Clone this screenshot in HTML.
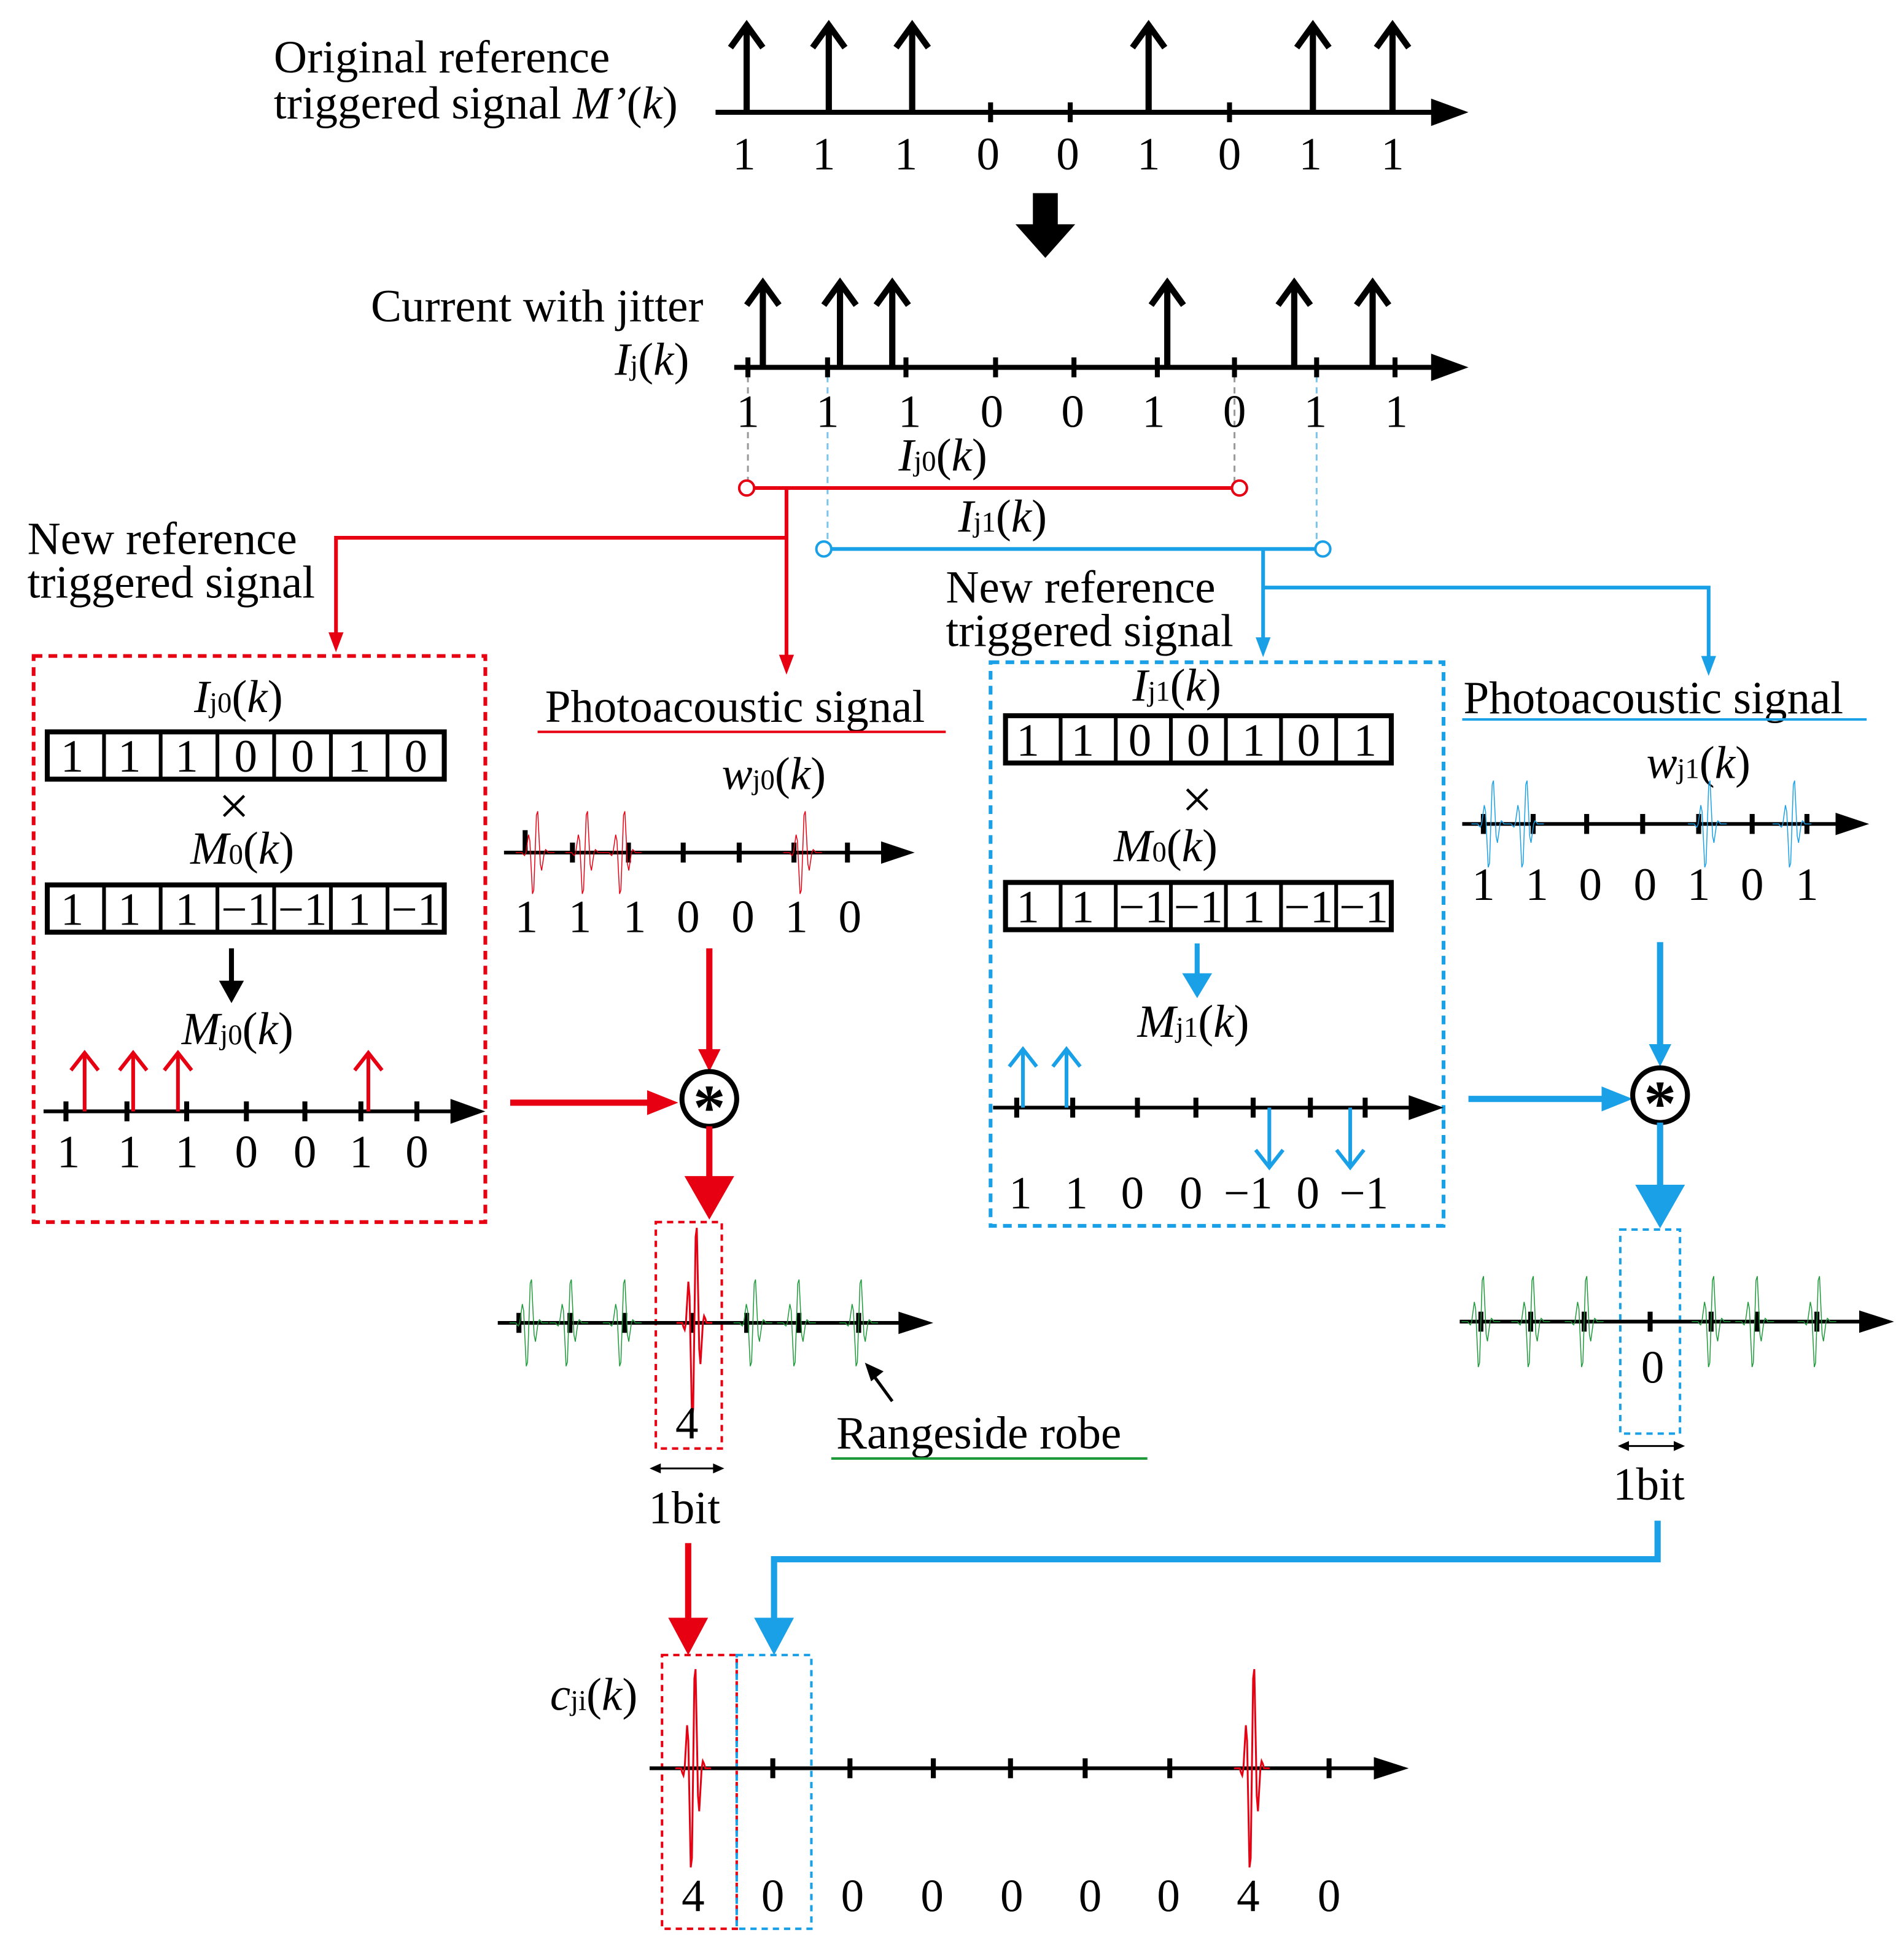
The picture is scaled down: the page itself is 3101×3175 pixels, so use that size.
<!DOCTYPE html>
<html><head><meta charset="utf-8">
<style>
html,body{margin:0;padding:0;background:#fff;}
svg{display:block;}
text{font-family:"Liberation Serif",serif;font-size:37px;fill:#000;}
.i{font-style:italic;}
.s{font-size:23px;font-style:normal;}
.c{text-anchor:middle;}
</style></head>
<body>
<svg width="3101" height="3175" viewBox="0 0 1530 1566" xmlns="http://www.w3.org/2000/svg">
<defs>
<path id="wv" fill="none" vector-effect="non-scaling-stroke" d="M-6,0 L-4.05,0 L-3.65,1.5 L-3.24,2.4 L-2.84,0 L-2.43,-7.3 L-2.03,-14.4 L-1.62,-9.3 L-1.22,11.9 L-0.81,33.2 L-0.41,30.1 L0,0 L0.41,-30.1 L0.81,-33.2 L1.22,-11.9 L1.62,9.3 L2.03,14.4 L2.43,7.3 L2.84,0 L3.24,-2.4 L3.65,-1.5 L4.05,0 L6,0"/>
</defs>

<!-- ===== TOP ===== -->
<text x="220" y="58">Original reference</text>
<text x="220" y="95">triggered signal <tspan class="i">M’</tspan>(<tspan class="i">k</tspan>)</text>
<g stroke="#000" stroke-width="4" fill="none">
<line x1="575" y1="90" x2="1155" y2="90"/>
<line x1="796" y1="82" x2="796" y2="98"/><line x1="860" y1="82" x2="860" y2="98"/><line x1="988" y1="82" x2="988" y2="98"/>
<g stroke-width="5">
<line x1="600" y1="90" x2="600" y2="20"/><polyline points="587,38 600,20 613,38"/>
<line x1="666" y1="90" x2="666" y2="20"/><polyline points="653,38 666,20 679,38"/>
<line x1="733" y1="90" x2="733" y2="20"/><polyline points="720,38 733,20 746,38"/>
<line x1="923" y1="90" x2="923" y2="20"/><polyline points="910,38 923,20 936,38"/>
<line x1="1055" y1="90" x2="1055" y2="20"/><polyline points="1042,38 1055,20 1068,38"/>
<line x1="1119" y1="90" x2="1119" y2="20"/><polyline points="1106,38 1119,20 1132,38"/>
</g>
</g>
<polygon points="1180,90 1150,79 1150,101" fill="#000"/>
<text x="598" y="136" class="c">1</text><text x="662" y="136" class="c">1</text><text x="728" y="136" class="c">1</text><text x="794" y="136" class="c">0</text><text x="858" y="136" class="c">0</text><text x="923" y="136" class="c">1</text><text x="988" y="136" class="c">0</text><text x="1053" y="136" class="c">1</text><text x="1119" y="136" class="c">1</text>

<polygon points="830,155 850,155 850,180 864,180 840,207 816,180 830,180" fill="#000"/>

<!-- ===== JITTER ===== -->
<text x="298" y="258">Current with jitter</text>
<text x="494" y="301"><tspan class="i">I</tspan><tspan class="s">j</tspan>(<tspan class="i">k</tspan>)</text>
<g stroke-width="1.5" stroke-dasharray="5,4" fill="none">
<line x1="601" y1="302" x2="601" y2="388" stroke="#999"/>
<line x1="992" y1="302" x2="992" y2="388" stroke="#999"/>
<line x1="665" y1="302" x2="665" y2="437" stroke="#7cc4ea"/>
<line x1="1058" y1="302" x2="1058" y2="437" stroke="#7cc4ea"/>
</g>
<g stroke="#000" stroke-width="4" fill="none">
<line x1="590" y1="295" x2="1155" y2="295"/>
<line x1="601" y1="287" x2="601" y2="303"/><line x1="665" y1="287" x2="665" y2="303"/><line x1="728" y1="287" x2="728" y2="303"/><line x1="800" y1="287" x2="800" y2="303"/><line x1="863" y1="287" x2="863" y2="303"/><line x1="930" y1="287" x2="930" y2="303"/><line x1="992" y1="287" x2="992" y2="303"/><line x1="1058" y1="287" x2="1058" y2="303"/><line x1="1121" y1="287" x2="1121" y2="303"/>
<g stroke-width="5">
<line x1="613" y1="295" x2="613" y2="227"/><polyline points="600,245 613,227 626,245"/>
<line x1="675" y1="295" x2="675" y2="227"/><polyline points="662,245 675,227 688,245"/>
<line x1="717" y1="295" x2="717" y2="227"/><polyline points="704,245 717,227 730,245"/>
<line x1="938" y1="295" x2="938" y2="227"/><polyline points="925,245 938,227 951,245"/>
<line x1="1040" y1="295" x2="1040" y2="227"/><polyline points="1027,245 1040,227 1053,245"/>
<line x1="1103" y1="295" x2="1103" y2="227"/><polyline points="1090,245 1103,227 1116,245"/>
</g>
</g>
<polygon points="1180,295 1150,284 1150,306" fill="#000"/>
<text x="601" y="343" class="c">1</text><text x="665" y="343" class="c">1</text><text x="731" y="343" class="c">1</text><text x="797" y="343" class="c">0</text><text x="862" y="343" class="c">0</text><text x="927" y="343" class="c">1</text><text x="992" y="343" class="c">0</text><text x="1057" y="343" class="c">1</text><text x="1122" y="343" class="c">1</text>

<text x="722" y="378"><tspan class="i">I</tspan><tspan class="s">j0</tspan>(<tspan class="i">k</tspan>)</text>
<text x="770" y="427"><tspan class="i">I</tspan><tspan class="s">j1</tspan>(<tspan class="i">k</tspan>)</text>

<g fill="none" stroke-width="3">
<line x1="606" y1="392" x2="990" y2="392" stroke="#e60012"/>
<line x1="668" y1="441" x2="1057" y2="441" stroke="#1aa0e6"/>
<polyline points="632,392 632,528" stroke="#e60012"/>
<polyline points="632,432 270,432 270,510" stroke="#e60012"/>
<polyline points="1015,441 1015,514" stroke="#1aa0e6"/>
<polyline points="1015,472 1373,472 1373,529" stroke="#1aa0e6"/>
</g>
<g fill="#fff" stroke-width="2">
<circle cx="600" cy="392" r="6" stroke="#e60012"/><circle cx="996" cy="392" r="6" stroke="#e60012"/>
<circle cx="662" cy="441" r="6" stroke="#1aa0e6"/><circle cx="1063" cy="441" r="6" stroke="#1aa0e6"/>
</g>
<polygon points="632,542 626,526 638,526" fill="#e60012"/>
<polygon points="270,524 264,508 276,508" fill="#e60012"/>
<polygon points="1015,528 1009,512 1021,512" fill="#1aa0e6"/>
<polygon points="1373,543 1367,527 1379,527" fill="#1aa0e6"/>

<text x="22" y="445">New reference</text>
<text x="22" y="480">triggered signal</text>
<text x="760" y="484">New reference</text>
<text x="760" y="519">triggered signal</text>

<!-- ===== LEFT BOX ===== -->
<rect x="27" y="527" width="363" height="455" fill="none" stroke="#e60012" stroke-width="3" stroke-dasharray="7,5"/>
<text x="156" y="572"><tspan class="i">I</tspan><tspan class="s">j0</tspan>(<tspan class="i">k</tspan>)</text>
<g stroke="#000" fill="none">
<rect x="38" y="588" width="319" height="38" stroke-width="4"/>
<rect x="38" y="711" width="319" height="38" stroke-width="4"/>
<g stroke-width="3">
<line x1="83.6" y1="588" x2="83.6" y2="626"/><line x1="129.1" y1="588" x2="129.1" y2="626"/><line x1="174.7" y1="588" x2="174.7" y2="626"/><line x1="220.3" y1="588" x2="220.3" y2="626"/><line x1="265.9" y1="588" x2="265.9" y2="626"/><line x1="311.4" y1="588" x2="311.4" y2="626"/>
<line x1="83.6" y1="711" x2="83.6" y2="749"/><line x1="129.1" y1="711" x2="129.1" y2="749"/><line x1="174.7" y1="711" x2="174.7" y2="749"/><line x1="220.3" y1="711" x2="220.3" y2="749"/><line x1="265.9" y1="711" x2="265.9" y2="749"/><line x1="311.4" y1="711" x2="311.4" y2="749"/>
</g>
</g>
<text x="58" y="620" class="c">1</text><text x="104" y="620" class="c">1</text><text x="150" y="620" class="c">1</text><text x="197.5" y="620" class="c">0</text><text x="243.1" y="620" class="c">0</text><text x="288.6" y="620" class="c">1</text><text x="334.2" y="620" class="c">0</text>
<text x="188" y="662" class="c" style="font-size:44px">×</text>
<text x="153" y="694"><tspan class="i">M</tspan><tspan class="s">0</tspan>(<tspan class="i">k</tspan>)</text>
<text x="58" y="743" class="c">1</text><text x="104" y="743" class="c">1</text><text x="150" y="743" class="c">1</text><text x="197.5" y="743" class="c">−1</text><text x="243.1" y="743" class="c">−1</text><text x="288.6" y="743" class="c">1</text><text x="334.2" y="743" class="c">−1</text>
<line x1="186" y1="762" x2="186" y2="790" stroke="#000" stroke-width="4"/>
<polygon points="186,806 176,788 196,788" fill="#000"/>
<text x="146" y="839"><tspan class="i">M</tspan><tspan class="s">j0</tspan>(<tspan class="i">k</tspan>)</text>
<g stroke="#000" stroke-width="4" fill="none">
<line x1="35" y1="893" x2="366" y2="893" stroke-width="3"/>
<line x1="53" y1="885" x2="53" y2="901"/><line x1="102" y1="885" x2="102" y2="901"/><line x1="150" y1="885" x2="150" y2="901"/><line x1="198" y1="885" x2="198" y2="901"/><line x1="245" y1="885" x2="245" y2="901"/><line x1="290" y1="885" x2="290" y2="901"/><line x1="335" y1="885" x2="335" y2="901"/>
</g>
<polygon points="390,893 362,883 362,903" fill="#000"/>
<g stroke="#e60012" stroke-width="3" fill="none">
<line x1="68" y1="893" x2="68" y2="846"/><polyline points="57,860 68,846 79,860"/>
<line x1="107" y1="893" x2="107" y2="846"/><polyline points="96,860 107,846 118,860"/>
<line x1="143" y1="893" x2="143" y2="846"/><polyline points="132,860 143,846 154,860"/>
<line x1="296" y1="893" x2="296" y2="846"/><polyline points="285,860 296,846 307,860"/>
</g>
<text x="55" y="938" class="c">1</text><text x="104" y="938" class="c">1</text><text x="150" y="938" class="c">1</text><text x="198" y="938" class="c">0</text><text x="245" y="938" class="c">0</text><text x="290" y="938" class="c">1</text><text x="335" y="938" class="c">0</text>

<!-- ===== RED PA ===== -->
<text x="438" y="580">Photoacoustic signal</text>
<line x1="432" y1="588" x2="760" y2="588" stroke="#e60012" stroke-width="2"/>
<text x="580" y="634"><tspan class="i">w</tspan><tspan class="s">j0</tspan>(<tspan class="i">k</tspan>)</text>
<g stroke="#000" stroke-width="4" fill="none">
<line x1="405" y1="685" x2="712" y2="685" stroke-width="3"/>
<line x1="422" y1="667" x2="422" y2="685"/><line x1="460" y1="677" x2="460" y2="693"/><line x1="505" y1="677" x2="505" y2="693"/><line x1="549" y1="677" x2="549" y2="693"/><line x1="594" y1="677" x2="594" y2="693"/><line x1="638" y1="677" x2="638" y2="693"/><line x1="681" y1="677" x2="681" y2="693"/>
</g>
<polygon points="735,685 708,676 708,694" fill="#000"/>
<g stroke="#e60012" stroke-width="1.5">
<use href="#wv" transform="translate(430,685) scale(2.6,1)"/>
<use href="#wv" transform="translate(470,685) scale(2.6,1)"/>
<use href="#wv" transform="translate(500,685) scale(2.6,1)"/>
<use href="#wv" transform="translate(645,685) scale(2.6,1)"/>
</g>
<text x="423" y="749" class="c">1</text><text x="466" y="749" class="c">1</text><text x="510" y="749" class="c">1</text><text x="553" y="749" class="c">0</text><text x="597" y="749" class="c">0</text><text x="640" y="749" class="c">1</text><text x="683" y="749" class="c">0</text>

<line x1="570" y1="762" x2="570" y2="845" stroke="#e60012" stroke-width="5"/>
<polygon points="570,861 561,843 579,843" fill="#e60012"/>
<line x1="410" y1="886" x2="522" y2="886" stroke="#e60012" stroke-width="5"/>
<polygon points="545,886 520,876 520,896" fill="#e60012"/>
<circle cx="570" cy="883" r="22" fill="#fff" stroke="#000" stroke-width="4"/>
<text x="570" y="907" class="c" style="font-size:52px;font-weight:bold">*</text>
<line x1="570" y1="905" x2="570" y2="948" stroke="#e60012" stroke-width="5"/>
<polygon points="550,945 590,945 570,980" fill="#e60012"/>

<rect x="527" y="982" width="53" height="182" fill="none" stroke="#e60012" stroke-width="2" stroke-dasharray="5,4"/>
<g stroke="#000" stroke-width="4" fill="none">
<line x1="400" y1="1063" x2="725" y2="1063" stroke-width="3"/>
<line x1="417" y1="1055" x2="417" y2="1071"/><line x1="458" y1="1055" x2="458" y2="1071"/><line x1="502" y1="1055" x2="502" y2="1071"/><line x1="556" y1="1055" x2="556" y2="1071"/><line x1="600" y1="1055" x2="600" y2="1071"/><line x1="642" y1="1055" x2="642" y2="1071"/><line x1="690" y1="1055" x2="690" y2="1071"/>
</g>
<polygon points="750,1063 722,1054 722,1072" fill="#000"/>
<g stroke="#1e9a3a" stroke-width="1.5">
<use href="#wv" transform="translate(425,1063) scale(2.6,1.05)"/>
<use href="#wv" transform="translate(457,1063) scale(2.6,1.05)"/>
<use href="#wv" transform="translate(500,1063) scale(2.6,1.05)"/>
<use href="#wv" transform="translate(605,1063) scale(2.6,1.05)"/>
<use href="#wv" transform="translate(640,1063) scale(2.6,1.05)"/>
<use href="#wv" transform="translate(690,1063) scale(2.6,1.05)"/>
</g>
<use href="#wv" stroke="#e60012" stroke-width="3" transform="translate(558,1063) scale(2.4,2.3)"/>
<text x="552" y="1156" class="c">4</text>
<line x1="528" y1="1180" x2="576" y2="1180" stroke="#000" stroke-width="1.5"/>
<polygon points="522,1180 531,1176 531,1184" fill="#000"/><polygon points="582,1180 573,1176 573,1184" fill="#000"/>
<text x="550" y="1224" class="c">1bit</text>
<line x1="717" y1="1126" x2="701" y2="1104" stroke="#000" stroke-width="2.5"/>
<polygon points="695,1095 710,1102 700,1110" fill="#000"/>
<text x="672" y="1164">Rangeside robe</text>
<line x1="668" y1="1172" x2="922" y2="1172" stroke="#1e9a3a" stroke-width="2"/>
<line x1="553" y1="1240" x2="553" y2="1302" stroke="#e60012" stroke-width="5"/>
<polygon points="537,1300 569,1300 553,1330" fill="#e60012"/>

<!-- ===== BLUE BOX ===== -->
<rect x="796" y="532" width="364" height="453" fill="none" stroke="#1aa0e6" stroke-width="3" stroke-dasharray="7,5"/>
<text x="910" y="563"><tspan class="i">I</tspan><tspan class="s">j1</tspan>(<tspan class="i">k</tspan>)</text>
<g stroke="#000" fill="none">
<rect x="808" y="575" width="310" height="38" stroke-width="4"/>
<rect x="808" y="709" width="310" height="38" stroke-width="4"/>
<g stroke-width="3">
<line x1="852.3" y1="575" x2="852.3" y2="613"/><line x1="896.6" y1="575" x2="896.6" y2="613"/><line x1="940.9" y1="575" x2="940.9" y2="613"/><line x1="985.1" y1="575" x2="985.1" y2="613"/><line x1="1029.4" y1="575" x2="1029.4" y2="613"/><line x1="1073.7" y1="575" x2="1073.7" y2="613"/>
<line x1="852.3" y1="709" x2="852.3" y2="747"/><line x1="896.6" y1="709" x2="896.6" y2="747"/><line x1="940.9" y1="709" x2="940.9" y2="747"/><line x1="985.1" y1="709" x2="985.1" y2="747"/><line x1="1029.4" y1="709" x2="1029.4" y2="747"/><line x1="1073.7" y1="709" x2="1073.7" y2="747"/>
</g>
</g>
<text x="826" y="607" class="c">1</text><text x="870" y="607" class="c">1</text><text x="916" y="607" class="c">0</text><text x="963" y="607" class="c">0</text><text x="1007.3" y="607" class="c">1</text><text x="1051.6" y="607" class="c">0</text><text x="1097" y="607" class="c">1</text>
<text x="962" y="657" class="c" style="font-size:44px">×</text>
<text x="895" y="692"><tspan class="i">M</tspan><tspan class="s">0</tspan>(<tspan class="i">k</tspan>)</text>
<text x="826" y="741" class="c">1</text><text x="870" y="741" class="c">1</text><text x="918.7" y="741" class="c">−1</text><text x="963" y="741" class="c">−1</text><text x="1007.3" y="741" class="c">1</text><text x="1051.6" y="741" class="c">−1</text><text x="1095.9" y="741" class="c">−1</text>
<line x1="962" y1="758" x2="962" y2="784" stroke="#1aa0e6" stroke-width="4"/>
<polygon points="962,802 950,782 974,782" fill="#1aa0e6"/>
<text x="914" y="833"><tspan class="i">M</tspan><tspan class="s">j1</tspan>(<tspan class="i">k</tspan>)</text>
<g stroke="#000" stroke-width="4" fill="none">
<line x1="798" y1="890" x2="1135" y2="890" stroke-width="3"/>
<line x1="817" y1="882" x2="817" y2="898"/><line x1="862" y1="882" x2="862" y2="898"/><line x1="914" y1="882" x2="914" y2="898"/><line x1="961" y1="882" x2="961" y2="898"/><line x1="1007" y1="882" x2="1007" y2="898"/><line x1="1053" y1="882" x2="1053" y2="898"/><line x1="1097" y1="882" x2="1097" y2="898"/>
</g>
<polygon points="1160,890 1132,880 1132,900" fill="#000"/>
<g stroke="#1aa0e6" stroke-width="3" fill="none">
<line x1="822" y1="890" x2="822" y2="843"/><polyline points="811,857 822,843 833,857"/>
<line x1="857" y1="890" x2="857" y2="843"/><polyline points="846,857 857,843 868,857"/>
<line x1="1020" y1="890" x2="1020" y2="938"/><polyline points="1009,924 1020,938 1031,924"/>
<line x1="1085" y1="890" x2="1085" y2="938"/><polyline points="1074,924 1085,938 1096,924"/>
</g>
<text x="820" y="971" class="c">1</text><text x="865" y="971" class="c">1</text><text x="910" y="971" class="c">0</text><text x="957" y="971" class="c">0</text><text x="1003" y="971" class="c">−1</text><text x="1051" y="971" class="c">0</text><text x="1096" y="971" class="c">−1</text>

<!-- ===== BLUE PA ===== -->
<text x="1176" y="573">Photoacoustic signal</text>
<line x1="1175" y1="578" x2="1500" y2="578" stroke="#1aa0e6" stroke-width="2"/>
<text x="1323" y="625"><tspan class="i">w</tspan><tspan class="s">j1</tspan>(<tspan class="i">k</tspan>)</text>
<g stroke="#000" stroke-width="4" fill="none">
<line x1="1175" y1="662" x2="1478" y2="662" stroke-width="3"/>
<line x1="1192" y1="654" x2="1192" y2="670"/><line x1="1232" y1="654" x2="1232" y2="670"/><line x1="1275" y1="654" x2="1275" y2="670"/><line x1="1320" y1="654" x2="1320" y2="670"/><line x1="1365" y1="654" x2="1365" y2="670"/><line x1="1408" y1="654" x2="1408" y2="670"/><line x1="1452" y1="654" x2="1452" y2="670"/>
</g>
<polygon points="1502,662 1475,653 1475,671" fill="#000"/>
<g stroke="#1aa0e6" stroke-width="1.5">
<use href="#wv" transform="translate(1198,662) scale(2.6,1.05)"/>
<use href="#wv" transform="translate(1225,662) scale(2.6,1.05)"/>
<use href="#wv" transform="translate(1372,662) scale(2.6,1.05)"/>
<use href="#wv" transform="translate(1440,662) scale(2.6,1.05)"/>
</g>
<text x="1192" y="723" class="c">1</text><text x="1235" y="723" class="c">1</text><text x="1278" y="723" class="c">0</text><text x="1322" y="723" class="c">0</text><text x="1365" y="723" class="c">1</text><text x="1408" y="723" class="c">0</text><text x="1452" y="723" class="c">1</text>

<line x1="1334" y1="757" x2="1334" y2="840" stroke="#1aa0e6" stroke-width="5"/>
<polygon points="1334,857 1325,839 1343,839" fill="#1aa0e6"/>
<line x1="1180" y1="883" x2="1290" y2="883" stroke="#1aa0e6" stroke-width="5"/>
<polygon points="1312,883 1287,873 1287,893" fill="#1aa0e6"/>
<circle cx="1334" cy="880" r="22" fill="#fff" stroke="#000" stroke-width="4"/>
<text x="1334" y="904" class="c" style="font-size:52px;font-weight:bold">*</text>
<line x1="1334" y1="902" x2="1334" y2="955" stroke="#1aa0e6" stroke-width="5"/>
<polygon points="1314,952 1354,952 1334,987" fill="#1aa0e6"/>

<rect x="1302" y="988" width="48" height="164" fill="none" stroke="#1aa0e6" stroke-width="2" stroke-dasharray="5,4"/>
<g stroke="#000" stroke-width="4" fill="none">
<line x1="1173" y1="1062" x2="1497" y2="1062" stroke-width="3"/>
<line x1="1190" y1="1054" x2="1190" y2="1070"/><line x1="1230" y1="1054" x2="1230" y2="1070"/><line x1="1273" y1="1054" x2="1273" y2="1070"/><line x1="1326" y1="1054" x2="1326" y2="1070"/><line x1="1375" y1="1054" x2="1375" y2="1070"/><line x1="1412" y1="1054" x2="1412" y2="1070"/><line x1="1460" y1="1054" x2="1460" y2="1070"/>
</g>
<polygon points="1522,1062 1494,1053 1494,1071" fill="#000"/>
<g stroke="#1e9a3a" stroke-width="1.5">
<use href="#wv" transform="translate(1190,1062) scale(2.6,1.1)"/>
<use href="#wv" transform="translate(1230,1062) scale(2.6,1.1)"/>
<use href="#wv" transform="translate(1273,1062) scale(2.6,1.1)"/>
<use href="#wv" transform="translate(1375,1062) scale(2.6,1.1)"/>
<use href="#wv" transform="translate(1410,1062) scale(2.6,1.1)"/>
<use href="#wv" transform="translate(1460,1062) scale(2.6,1.1)"/>
</g>
<text x="1328" y="1111" class="c">0</text>
<line x1="1306" y1="1162" x2="1348" y2="1162" stroke="#000" stroke-width="1.5"/>
<polygon points="1300,1162 1309,1158 1309,1166" fill="#000"/><polygon points="1354,1162 1345,1158 1345,1166" fill="#000"/>
<text x="1325" y="1205" class="c">1bit</text>
<polyline points="1332,1222 1332,1253 622,1253 622,1302" fill="none" stroke="#1aa0e6" stroke-width="5"/>
<polygon points="606,1300 638,1300 622,1330" fill="#1aa0e6"/>

<!-- ===== BOTTOM ===== -->
<text x="442" y="1374"><tspan class="i">c</tspan><tspan class="s">ji</tspan>(<tspan class="i">k</tspan>)</text>
<rect x="532" y="1330" width="60" height="220" fill="none" stroke="#e60012" stroke-width="2" stroke-dasharray="5,4"/>
<rect x="592" y="1330" width="60" height="220" fill="none" stroke="#1aa0e6" stroke-width="2" stroke-dasharray="5,4"/>
<g stroke="#000" stroke-width="4" fill="none">
<line x1="522" y1="1421" x2="1107" y2="1421" stroke-width="3"/>
<line x1="621" y1="1413" x2="621" y2="1429"/><line x1="683" y1="1413" x2="683" y2="1429"/><line x1="750" y1="1413" x2="750" y2="1429"/><line x1="812" y1="1413" x2="812" y2="1429"/><line x1="872" y1="1413" x2="872" y2="1429"/><line x1="940" y1="1413" x2="940" y2="1429"/><line x1="1068" y1="1413" x2="1068" y2="1429"/>
</g>
<polygon points="1132,1421 1104,1412 1104,1430" fill="#000"/>
<use href="#wv" stroke="#e60012" stroke-width="3" transform="translate(557,1421) scale(2.4,2.4)"/>
<use href="#wv" stroke="#e60012" stroke-width="3" transform="translate(1006,1421) scale(2.4,2.4)"/>
<text x="557" y="1536" class="c">4</text><text x="621" y="1536" class="c">0</text><text x="685" y="1536" class="c">0</text><text x="749" y="1536" class="c">0</text><text x="813" y="1536" class="c">0</text><text x="876" y="1536" class="c">0</text><text x="939" y="1536" class="c">0</text><text x="1003" y="1536" class="c">4</text><text x="1068" y="1536" class="c">0</text>
</svg>
</body></html>
